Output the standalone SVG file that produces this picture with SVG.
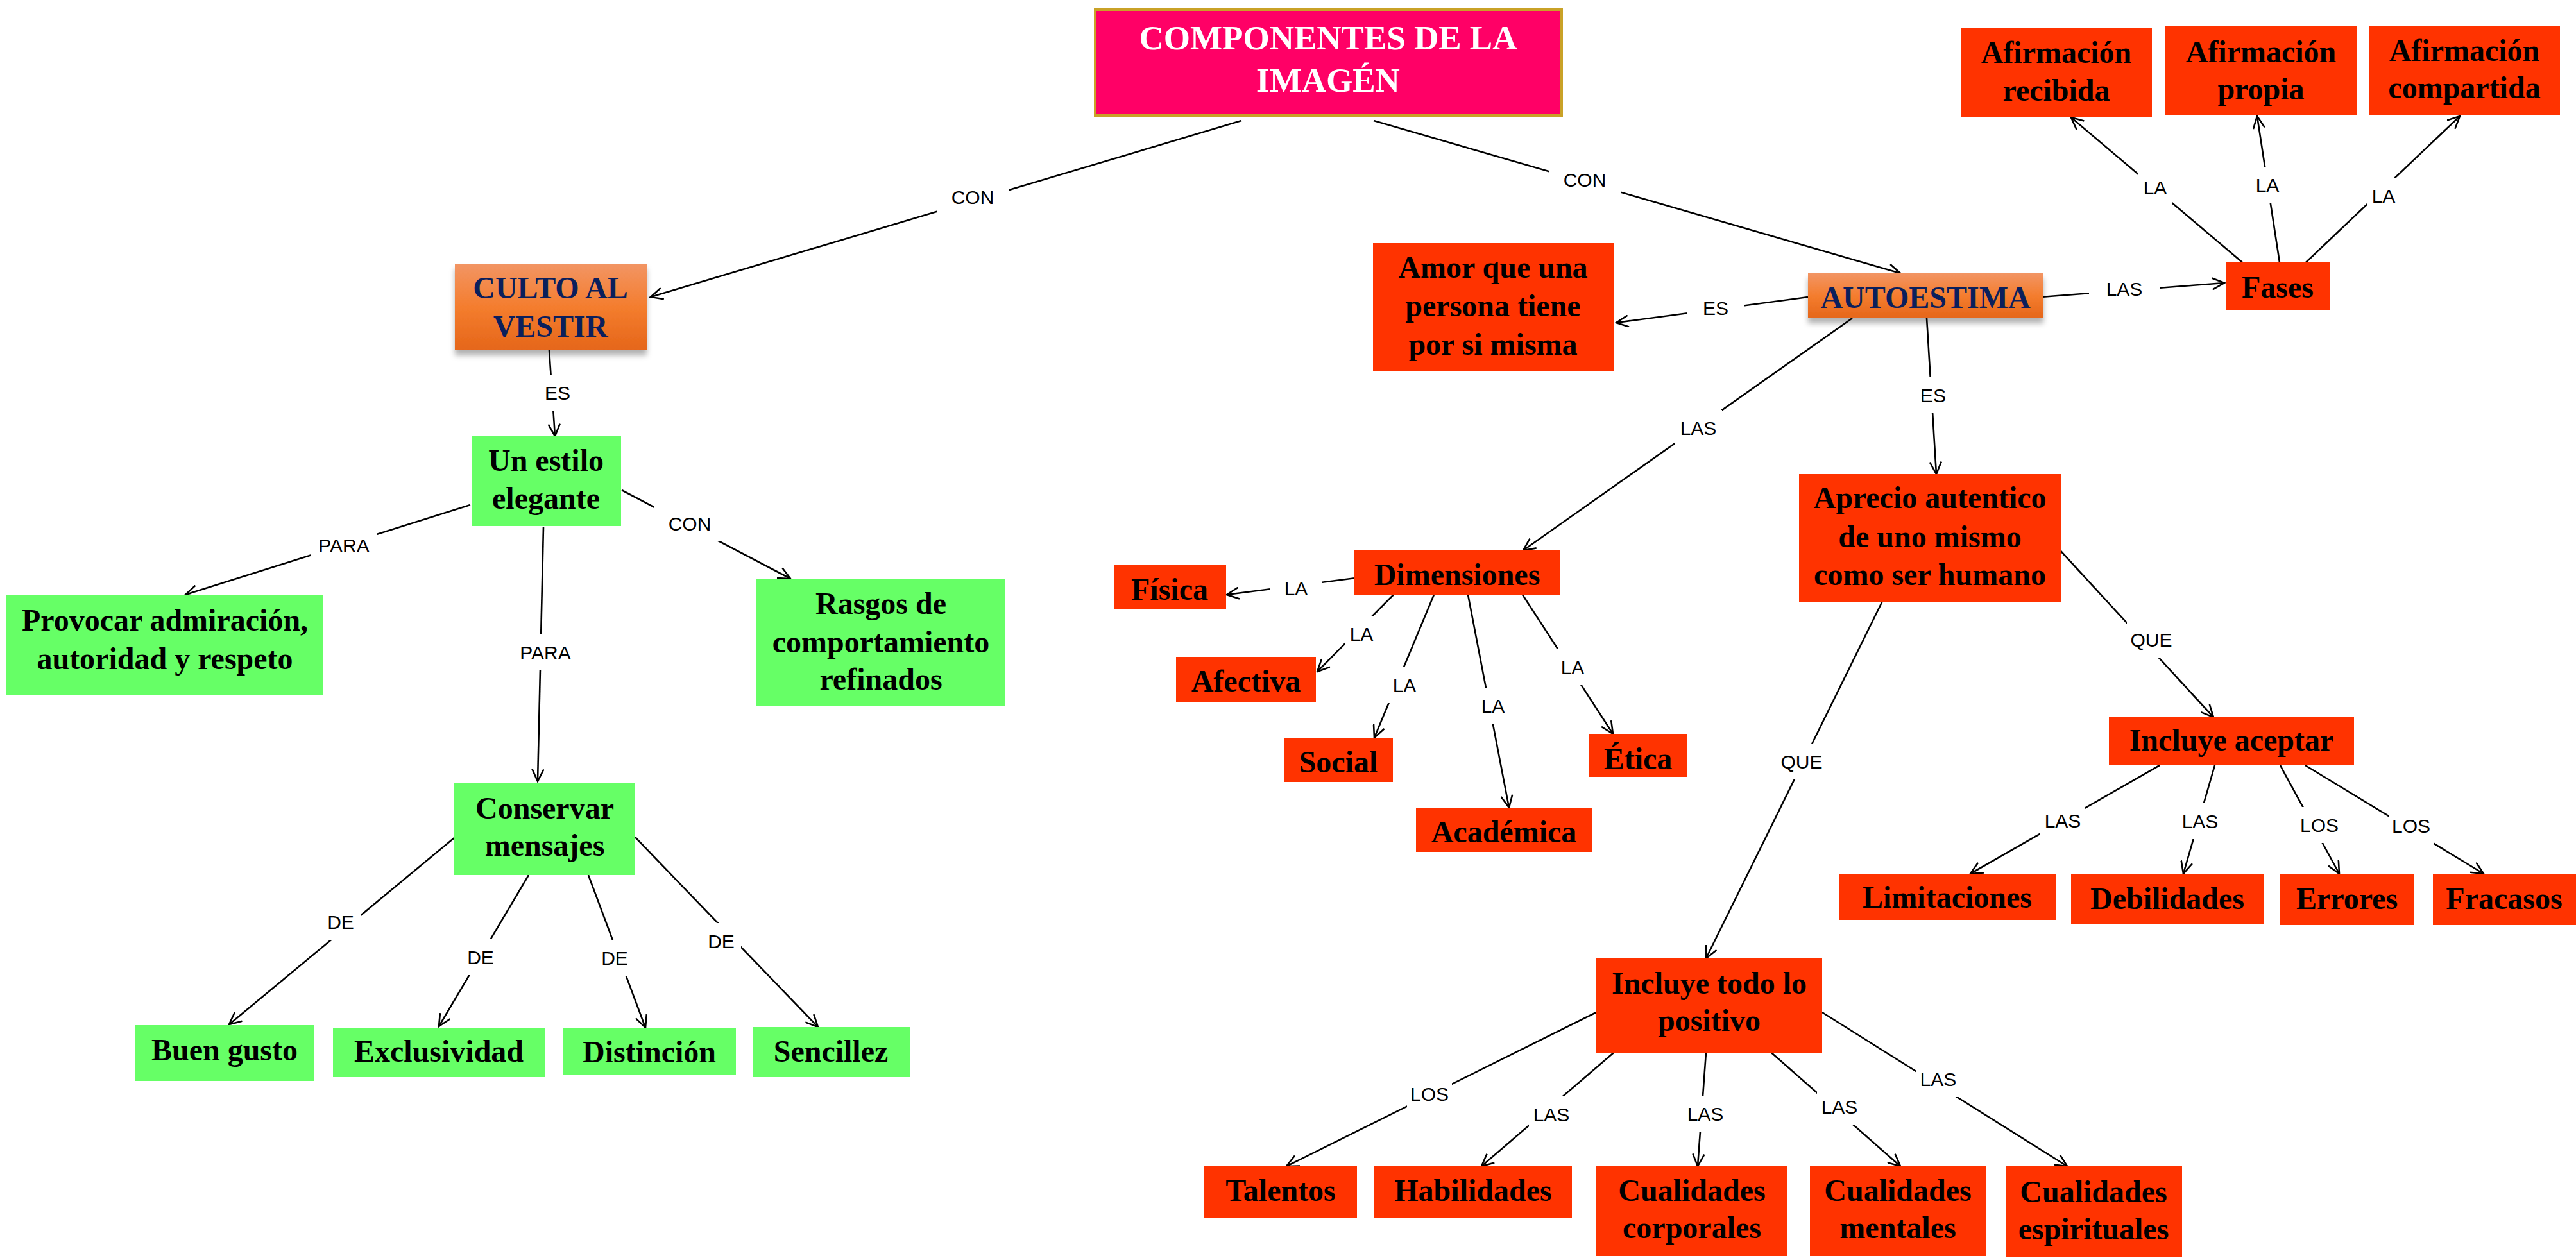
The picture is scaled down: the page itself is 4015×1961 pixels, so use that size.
<svg xmlns="http://www.w3.org/2000/svg" width="4015" height="1961" viewBox="0 0 4015 1961">
<defs>
<style>
.n{font-family:"Liberation Serif","Times New Roman",serif;font-weight:bold;font-size:48px;text-anchor:middle;fill:#000}
.t{font-family:"Liberation Serif","Times New Roman",serif;font-weight:bold;font-size:53px;text-anchor:middle;fill:#fff}
.nv{fill:#0B1F5C}
.g{fill:#66FF66}
.r{fill:#FF3300}
.c line{stroke:#000;stroke-width:2.6;marker-end:url(#ah)}
.lb rect{fill:#fff}
.lb text{font-family:"Liberation Sans",Arial,sans-serif;font-size:30px;text-anchor:middle;fill:#000}
</style>
<marker id="ah" markerUnits="userSpaceOnUse" viewBox="0 0 22 20" markerWidth="22" markerHeight="20" refX="20" refY="10" orient="auto">
<path d="M1,1 L20,10 L1,19" fill="none" stroke="#000" stroke-width="2.6"/>
</marker>
<linearGradient id="og" x1="0" y1="0" x2="0" y2="1">
<stop offset="0" stop-color="#F29564"/>
<stop offset="0.5" stop-color="#F47D2E"/>
<stop offset="1" stop-color="#E5661A"/>
</linearGradient>
<filter id="sh" x="-10%" y="-20%" width="120%" height="150%">
<feDropShadow dx="0" dy="8" stdDeviation="4" flood-color="#000" flood-opacity="0.3"/>
</filter>
</defs>
<rect width="4015" height="1961" fill="#fff"/>

<g id="connectors" class="c">
<line x1="1935" y1="188" x2="1014" y2="463"/>
<line x1="2141" y1="188" x2="2962" y2="426"/>
<line x1="856" y1="546" x2="865" y2="680"/>
<line x1="733" y1="787" x2="289" y2="927"/>
<line x1="847" y1="821" x2="838" y2="1218"/>
<line x1="969" y1="764" x2="1232" y2="902"/>
<line x1="708" y1="1306" x2="357" y2="1597"/>
<line x1="824" y1="1364" x2="684" y2="1600"/>
<line x1="917" y1="1364" x2="1006" y2="1602"/>
<line x1="990" y1="1305" x2="1275" y2="1601"/>
<line x1="2818" y1="463" x2="2519" y2="503"/>
<line x1="3181" y1="463" x2="3467" y2="441"/>
<line x1="3495" y1="409" x2="3228" y2="183"/>
<line x1="3553" y1="409" x2="3518" y2="181"/>
<line x1="3594" y1="409" x2="3834" y2="181"/>
<line x1="2887" y1="496" x2="2374" y2="858"/>
<line x1="3003" y1="496" x2="3018" y2="739"/>
<line x1="2113" y1="901" x2="1912" y2="927"/>
<line x1="2172" y1="927" x2="2053" y2="1047"/>
<line x1="2235" y1="927" x2="2142" y2="1150"/>
<line x1="2288" y1="927" x2="2352" y2="1259"/>
<line x1="2373" y1="927" x2="2514" y2="1144"/>
<line x1="3212" y1="859" x2="3450" y2="1118"/>
<line x1="2934" y1="937" x2="2659" y2="1494"/>
<line x1="3366" y1="1193" x2="3071" y2="1362"/>
<line x1="3452" y1="1193" x2="3403" y2="1362"/>
<line x1="3554" y1="1193" x2="3646" y2="1362"/>
<line x1="3593" y1="1193" x2="3871" y2="1362"/>
<line x1="2488" y1="1578" x2="2005" y2="1818"/>
<line x1="2515" y1="1641" x2="2309" y2="1818"/>
<line x1="2659" y1="1641" x2="2646" y2="1818"/>
<line x1="2761" y1="1641" x2="2962" y2="1818"/>
<line x1="2840" y1="1578" x2="3222" y2="1818"/>
<g class="lb">
<rect x="1460" y="279" width="112" height="56"/><text x="1516" y="318">CON</text>
<rect x="2414" y="252" width="112" height="56"/><text x="2470" y="291">CON</text>
<rect x="842" y="584" width="54" height="56"/><text x="869" y="623">ES</text>
<rect x="485" y="822" width="102" height="56"/><text x="536" y="861">PARA</text>
<rect x="799" y="989" width="102" height="56"/><text x="850" y="1028">PARA</text>
<rect x="1019" y="788" width="112" height="56"/><text x="1075" y="827">CON</text>
<rect x="500" y="1409" width="62" height="56"/><text x="531" y="1448">DE</text>
<rect x="718" y="1464" width="62" height="56"/><text x="749" y="1503">DE</text>
<rect x="927" y="1465" width="62" height="56"/><text x="958" y="1504">DE</text>
<rect x="1093" y="1439" width="62" height="56"/><text x="1124" y="1478">DE</text>
<rect x="2629" y="452" width="90" height="56"/><text x="2674" y="491">ES</text>
<rect x="3256" y="422" width="110" height="56"/><text x="3311" y="461">LAS</text>
<rect x="3333" y="264" width="52" height="56"/><text x="3359" y="303">LA</text>
<rect x="3508" y="260" width="52" height="56"/><text x="3534" y="299">LA</text>
<rect x="3689" y="277" width="52" height="56"/><text x="3715" y="316">LA</text>
<rect x="2610" y="639" width="74" height="56"/><text x="2647" y="678">LAS</text>
<rect x="2980" y="588" width="66" height="56"/><text x="3013" y="627">ES</text>
<rect x="1980" y="889" width="80" height="56"/><text x="2020" y="928">LA</text>
<rect x="2096" y="960" width="52" height="56"/><text x="2122" y="999">LA</text>
<rect x="2163" y="1040" width="52" height="56"/><text x="2189" y="1079">LA</text>
<rect x="2301" y="1072" width="52" height="56"/><text x="2327" y="1111">LA</text>
<rect x="2425" y="1012" width="52" height="56"/><text x="2451" y="1051">LA</text>
<rect x="3315" y="969" width="76" height="56"/><text x="3353" y="1008">QUE</text>
<rect x="2770" y="1159" width="76" height="56"/><text x="2808" y="1198">QUE</text>
<rect x="3180" y="1251" width="70" height="56"/><text x="3215" y="1290">LAS</text>
<rect x="3394" y="1252" width="70" height="56"/><text x="3429" y="1291">LAS</text>
<rect x="3580" y="1258" width="70" height="56"/><text x="3615" y="1297">LOS</text>
<rect x="3723" y="1259" width="70" height="56"/><text x="3758" y="1298">LOS</text>
<rect x="2193" y="1677" width="70" height="56"/><text x="2228" y="1716">LOS</text>
<rect x="2383" y="1709" width="70" height="56"/><text x="2418" y="1748">LAS</text>
<rect x="2623" y="1708" width="70" height="56"/><text x="2658" y="1747">LAS</text>
<rect x="2832" y="1697" width="70" height="56"/><text x="2867" y="1736">LAS</text>
<rect x="2986" y="1654" width="70" height="56"/><text x="3021" y="1693">LAS</text>
</g>
</g>

<g id="n-title"><rect x="1707" y="15" width="727" height="165" fill="#FF0066" stroke="#C9A227" stroke-width="4"/><text class="t" x="2070" y="77">COMPONENTES DE LA</text><text class="t" x="2070" y="143">IMAGÉN</text></g>
<g id="n-culto"><rect x="709" y="411" width="299" height="135" fill="url(#og)" filter="url(#sh)"/><text class="n nv" x="858" y="465">CULTO AL</text><text class="n nv" x="858" y="525">VESTIR</text></g>
<g id="n-estilo"><rect class="g" x="735" y="680" width="233" height="140"/><text class="n" x="851" y="734">Un estilo</text><text class="n" x="851" y="793">elegante</text></g>
<g id="n-provocar"><rect class="g" x="10" y="928" width="494" height="156"/><text class="n" x="257" y="983">Provocar admiración,</text><text class="n" x="257" y="1043">autoridad y respeto</text></g>
<g id="n-rasgos"><rect class="g" x="1179" y="902" width="388" height="199"/><text class="n" x="1373" y="957">Rasgos de</text><text class="n" x="1373" y="1017">comportamiento</text><text class="n" x="1373" y="1075">refinados</text></g>
<g id="n-conservar"><rect class="g" x="708" y="1220" width="282" height="144"/><text class="n" x="849" y="1276">Conservar</text><text class="n" x="849" y="1334">mensajes</text></g>
<g id="n-buengusto"><rect class="g" x="211" y="1598" width="279" height="87"/><text class="n" x="350" y="1653">Buen gusto</text></g>
<g id="n-exclusividad"><rect class="g" x="519" y="1602" width="330" height="77"/><text class="n" x="684" y="1655">Exclusividad</text></g>
<g id="n-distincion"><rect class="g" x="877" y="1603" width="270" height="73"/><text class="n" x="1012" y="1656">Distinción</text></g>
<g id="n-sencillez"><rect class="g" x="1173" y="1601" width="245" height="78"/><text class="n" x="1295" y="1655">Sencillez</text></g>

<g id="n-autoestima"><rect x="2818" y="426" width="367" height="70" fill="url(#og)" filter="url(#sh)"/><text class="n nv" x="3001" y="480">AUTOESTIMA</text></g>
<g id="n-amor"><rect class="r" x="2140" y="379" width="375" height="199"/><text class="n" x="2327" y="433">Amor que una</text><text class="n" x="2327" y="493">persona tiene</text><text class="n" x="2327" y="553">por si misma</text></g>
<g id="n-fases"><rect class="r" x="3469" y="409" width="163" height="75"/><text class="n" x="3550" y="464">Fases</text></g>
<g id="n-recibida"><rect class="r" x="3056" y="43" width="298" height="139"/><text class="n" x="3205" y="98">Afirmación</text><text class="n" x="3205" y="157">recibida</text></g>
<g id="n-propia"><rect class="r" x="3375" y="41" width="298" height="139"/><text class="n" x="3524" y="97">Afirmación</text><text class="n" x="3524" y="155">propia</text></g>
<g id="n-compartida"><rect class="r" x="3693" y="41" width="297" height="138"/><text class="n" x="3841" y="95">Afirmación</text><text class="n" x="3841" y="153">compartida</text></g>
<g id="n-dimensiones"><rect class="r" x="2110" y="858" width="322" height="69"/><text class="n" x="2271" y="912">Dimensiones</text></g>
<g id="n-fisica"><rect class="r" x="1736" y="881" width="175" height="69"/><text class="n" x="1823" y="935">Física</text></g>
<g id="n-afectiva"><rect class="r" x="1833" y="1024" width="218" height="70"/><text class="n" x="1942" y="1078">Afectiva</text></g>
<g id="n-social"><rect class="r" x="2001" y="1150" width="170" height="69"/><text class="n" x="2086" y="1204">Social</text></g>
<g id="n-academica"><rect class="r" x="2207" y="1259" width="274" height="69"/><text class="n" x="2344" y="1313">Académica</text></g>
<g id="n-etica"><rect class="r" x="2477" y="1144" width="153" height="67"/><text class="n" x="2553" y="1199">Ética</text></g>
<g id="n-aprecio"><rect class="r" x="2804" y="739" width="408" height="199"/><text class="n" x="3008" y="792">Aprecio autentico</text><text class="n" x="3008" y="853">de uno mismo</text><text class="n" x="3008" y="912">como ser humano</text></g>
<g id="n-aceptar"><rect class="r" x="3287" y="1118" width="382" height="75"/><text class="n" x="3478" y="1170">Incluye aceptar</text></g>
<g id="n-limitaciones"><rect class="r" x="2866" y="1362" width="338" height="72"/><text class="n" x="3035" y="1415">Limitaciones</text></g>
<g id="n-debilidades"><rect class="r" x="3228" y="1362" width="300" height="78"/><text class="n" x="3378" y="1417">Debilidades</text></g>
<g id="n-errores"><rect class="r" x="3554" y="1362" width="209" height="80"/><text class="n" x="3658" y="1417">Errores</text></g>
<g id="n-fracasos"><rect class="r" x="3792" y="1362" width="223" height="80"/><text class="n" x="3903" y="1417">Fracasos</text></g>
<g id="n-positivo"><rect class="r" x="2488" y="1494" width="352" height="147"/><text class="n" x="2664" y="1549">Incluye todo lo</text><text class="n" x="2664" y="1607">positivo</text></g>
<g id="n-talentos"><rect class="r" x="1877" y="1818" width="238" height="80"/><text class="n" x="1996" y="1872">Talentos</text></g>
<g id="n-habilidades"><rect class="r" x="2142" y="1818" width="308" height="80"/><text class="n" x="2296" y="1872">Habilidades</text></g>
<g id="n-corporales"><rect class="r" x="2488" y="1818" width="298" height="140"/><text class="n" x="2637" y="1872">Cualidades</text><text class="n" x="2637" y="1930">corporales</text></g>
<g id="n-mentales"><rect class="r" x="2821" y="1818" width="275" height="140"/><text class="n" x="2958" y="1872">Cualidades</text><text class="n" x="2958" y="1930">mentales</text></g>
<g id="n-espirituales"><rect class="r" x="3126" y="1818" width="275" height="141"/><text class="n" x="3263" y="1874">Cualidades</text><text class="n" x="3263" y="1932">espirituales</text></g>
</svg>
